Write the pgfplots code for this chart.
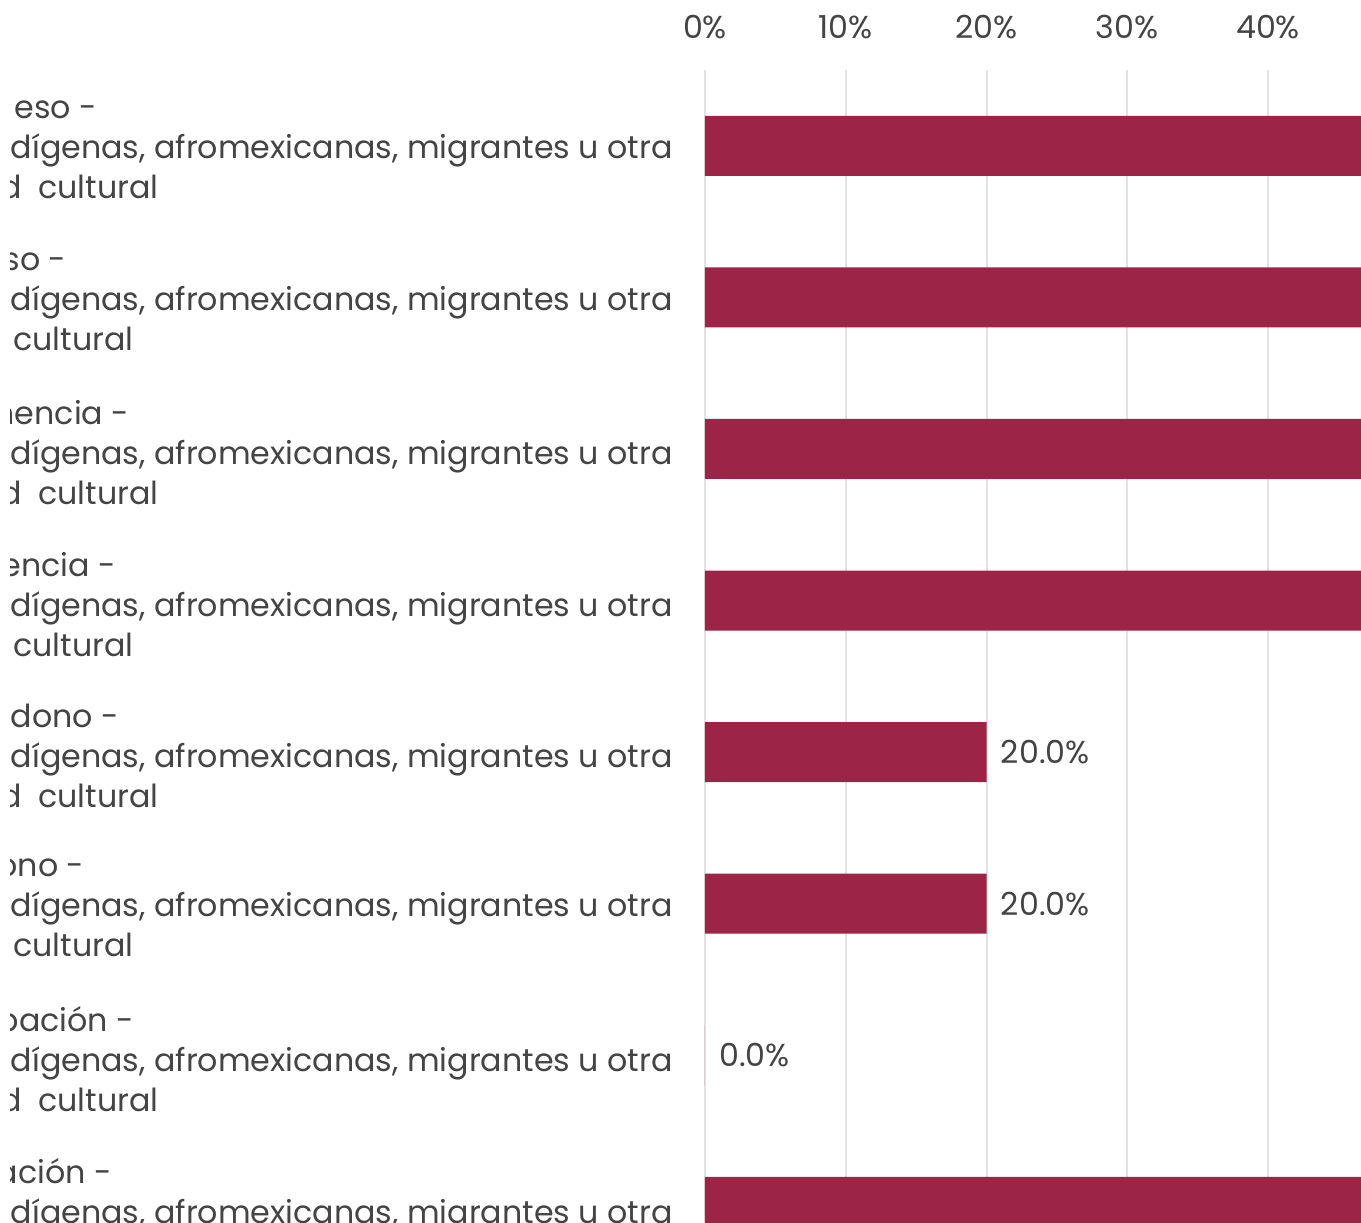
\documentclass[border=0pt]{standalone}
\usepackage{fontspec}
\setmainfont{Poppins}
\usepackage{pgfplots}
\pgfplotsset{compat=1.18}

\definecolor{barcol}{HTML}{9B2447}
\definecolor{txt}{HTML}{444444}
\definecolor{gridc}{HTML}{E2E2E2}

% one pixel of the reference
\newdimen\upx \upx=0.5pt
% label lines: right end at x = #1 px, or left start at x = #1 px
\newcommand{\lbl}[2]{\makebox[705\upx][l]{\hspace*{#1\upx}\llap{#2}}}
\newcommand{\lbs}[2]{\makebox[705\upx][l]{\hspace*{#1\upx}#2}}
\newcommand{\cat}[2]{#1\\\lbl{673}{dígenas, afromexicanas, migrantes u otra}\\#2}
\newcommand{\lthree}{\lbl{159}{\llap{d\hspace{8pt}}cultural}}
\newcommand{\lthreeb}{\lbl{134}{cultural}}

\begin{document}
\begin{tikzpicture}
\useasboundingbox (0pt,0pt) rectangle (680.5pt,-611pt);
\clip (5pt,0pt) rectangle (680.5pt,-611pt);
\begin{axis}[
    at={(352.5pt,-35pt)}, anchor=north west,
    scale only axis,
    width=328pt, height=576pt,
    xbar, bar width=30pt,
    xmin=0, xmax=46.6,
    ymin=-0.5, ymax=7.1,
    y dir=reverse,
    axis line style={draw=none},
    major tick length=0pt,
    xtick={0,10,20,30,40},
    xticklabel pos=top,
    xticklabel={\pgfmathprintnumber{\tick}\%},
    xticklabel style={anchor=south, inner sep=0pt, yshift=15.5pt},
    ytick={0,...,7},
    yticklabels={
      {\cat{\lbs{15}{eso -}}{\lthree}},
      {\cat{\lbs{4}{so -}}{\lthreeb}},
      {\cat{\lbs{-5}{nencia -}}{\lthree}},
      {\cat{\lbs{2}{encia -}}{\lthreeb}},
      {\cat{\lbs{11}{dono -}}{\lthree}},
      {\cat{\lbs{-2}{ono -}}{\lthreeb}},
      {\cat{\lbs{-2}{pación -}}{\lthree}},
      {\cat{\lbs{-3}{ación -}}{\lthreeb}}},
    yticklabel style={anchor=east, align=left, inner sep=0pt, yshift=-2pt},
    xmajorgrids,
    grid style={gridc, line width=1pt},
    tick label style={font=\fontsize{15.85}{20}\selectfont, text=txt},
    /pgf/number format/assume math mode=true,
    nodes near coords={\pgfmathprintnumber[fixed,fixed zerofill,precision=1]{\pgfplotspointmeta}\%},
    nodes near coords style={anchor=west, inner sep=0pt, xshift=7pt, text=txt, font=\fontsize{15.85}{20}\selectfont},
  ]
  \addplot[fill=barcol, draw=none] coordinates {
    (60,0) (60,1) (60,2) (60,3) (20,4) (20,5) (0,6) (60,7)
  };
\end{axis}
\end{tikzpicture}
\end{document}
